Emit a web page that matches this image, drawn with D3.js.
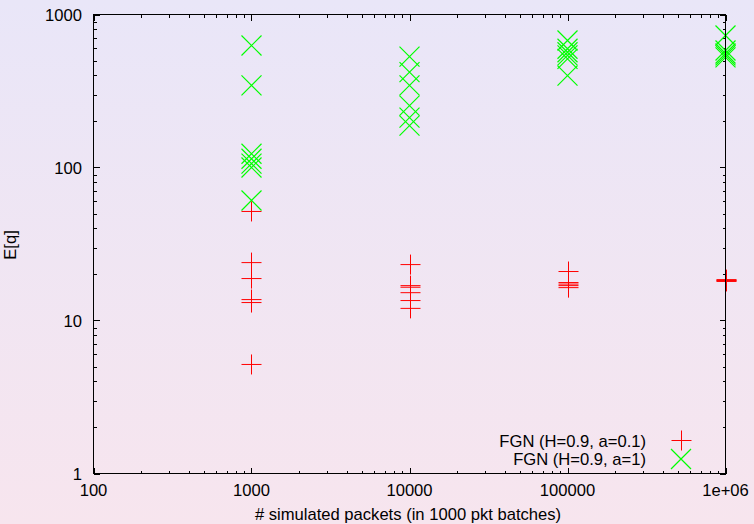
<!DOCTYPE html>
<html>
<head>
<meta charset="utf-8">
<script src="https://cdn.jsdelivr.net/npm/d3@7"></script>
<style>
  html, body { margin: 0; padding: 0; }
  svg { display: block; }
  text { font-family: "Liberation Sans", Arial, sans-serif; font-size: 16.6px; fill: #000; }
</style>
</head>
<body>
<script>
// Batch sizes on the x axis (log scale)
const batchSizes = [1000, 10000, 100000, 1000000];

// Mean queue length E[q] per run, FGN H=0.9 a=0.1
const fgnA01 = [
  [51.6, 23.9, 18.8, 13.7, 13.1, 5.16],
  [23.2, 16.9, 16.5, 15.2, 13.5, 12.0],
  [20.9, 17.7, 17.3, 16.9, 16.4],
  [18.5, 18.3, 18.2, 18.0]
];

// Mean queue length E[q] per run, FGN H=0.9 a=1
const fgnA1 = [
  [627, 344, 123, 114, 106, 100, 60.9],
  [531, 420, 344, 254, 212, 188],
  [676, 597, 567, 540, 513, 399],
  [729, 582, 556, 540, 524]
];

const xTickValues = [100, 1000, 10000, 100000, 1000000];
const xTickLabels = ["100", "1000", "10000", "100000", "1e+06"];
const yTickValues = [1, 10, 100, 1000];
const yTickLabels = ["1", "10", "100", "1000"];

const seriesNames = ["FGN (H=0.9, a=0.1)", "FGN (H=0.9, a=1)"];

const W = 754, H = 524;
const m = { left: 93.5, right: 725.5, top: 14.5, bottom: 473.5 };

const svg = d3.select("body").append("svg").attr("width", W).attr("height", H);

const defs = svg.append("defs");
const grad = defs.append("linearGradient").attr("id", "bg").attr("x1", 0).attr("y1", 0).attr("x2", 0).attr("y2", 1);
grad.append("stop").attr("offset", "0%").attr("stop-color", "#e9e6f8");
grad.append("stop").attr("offset", "100%").attr("stop-color", "#f7e5ee");
svg.append("rect").attr("width", W).attr("height", H).attr("fill", "url(#bg)");

const x = d3.scaleLog().domain([100, 1000000]).range([m.left, m.right]);
const y = d3.scaleLog().domain([1, 1000]).range([m.bottom, m.top]);

// minor ticks 2..9 within each decade
function minors(lo, hi) {
  const out = [];
  for (let d = lo; d < hi; d *= 10)
    for (let k = 2; k <= 9; k++) out.push(d * k);
  return out;
}
const xMinor = minors(100, 1000000);
const yMinor = minors(1, 1000);

const g = svg.append("g").attr("stroke", "#000").attr("stroke-width", 1).attr("shape-rendering", "crispEdges");
const majorLen = 6, minorLen = 3;

// x ticks, bottom and mirrored on top
function xTick(v, len) {
  const px = Math.round(x(v)) + 0.5;
  g.append("line").attr("x1", px).attr("x2", px).attr("y1", m.bottom).attr("y2", m.bottom - len);
  g.append("line").attr("x1", px).attr("x2", px).attr("y1", m.top).attr("y2", m.top + len);
}
// y ticks, left and mirrored on right
function yTick(v, len) {
  const py = Math.round(y(v)) + 0.5;
  g.append("line").attr("x1", m.left).attr("x2", m.left + len).attr("y1", py).attr("y2", py);
  g.append("line").attr("x1", m.right).attr("x2", m.right - len).attr("y1", py).attr("y2", py);
}
xTickValues.forEach(v => xTick(v, majorLen));
xMinor.forEach(v => xTick(v, minorLen));
yTickValues.forEach(v => yTick(v, majorLen));
yMinor.forEach(v => yTick(v, minorLen));

// tick labels
xTickValues.forEach((v, i) => {
  svg.append("text").attr("x", x(v)).attr("y", 496).attr("text-anchor", "middle").text(xTickLabels[i]);
});
yTickValues.forEach((v, i) => {
  svg.append("text").attr("x", 82).attr("y", y(v) + 6).attr("text-anchor", "end").text(yTickLabels[i]);
});

// axis titles
svg.append("text").attr("x", 408).attr("y", 520).attr("text-anchor", "middle")
  .text("# simulated packets (in 1000 pkt batches)");
svg.append("text").attr("transform", "translate(16,245) rotate(-90)").attr("text-anchor", "middle").text("E[q]");

const r = 10;
function plus(sel, cx, cy) {
  sel.append("path").attr("d", `M${cx - r},${cy}H${cx + r}M${cx},${cy - r}V${cy + r}`);
}
function cross(sel, cx, cy) {
  sel.append("path").attr("d", `M${cx - r},${cy - r}L${cx + r},${cy + r}M${cx - r},${cy + r}L${cx + r},${cy - r}`);
}

// data marks: green crosses underneath, red pluses on top
const greenG = svg.append("g").attr("stroke", "#00ff00").attr("stroke-width", 1.2).attr("fill", "none");
fgnA1.forEach((vals, i) => vals.forEach(v => cross(greenG, x(batchSizes[i]), y(v))));

const redG = svg.append("g").attr("stroke", "#ff0000").attr("stroke-width", 1).attr("fill", "none");
fgnA01.forEach((vals, i) => vals.forEach(v => plus(redG, Math.round(x(batchSizes[i])) + 0.5, y(v))));

// legend
const legX = 681, legTextX = 646;
svg.append("text").attr("x", legTextX).attr("y", 447).attr("text-anchor", "end").text(seriesNames[0]);
svg.append("text").attr("x", legTextX).attr("y", 465).attr("text-anchor", "end").text(seriesNames[1]);
plus(redG, legX + 0.5, 440.5);
cross(greenG, legX, 459);

// frame
svg.append("rect").attr("x", m.left).attr("y", m.top).attr("width", m.right - m.left).attr("height", m.bottom - m.top)
  .attr("fill", "none").attr("stroke", "#000").attr("stroke-width", 1.3).attr("shape-rendering", "crispEdges");
</script>
</body>
</html>
